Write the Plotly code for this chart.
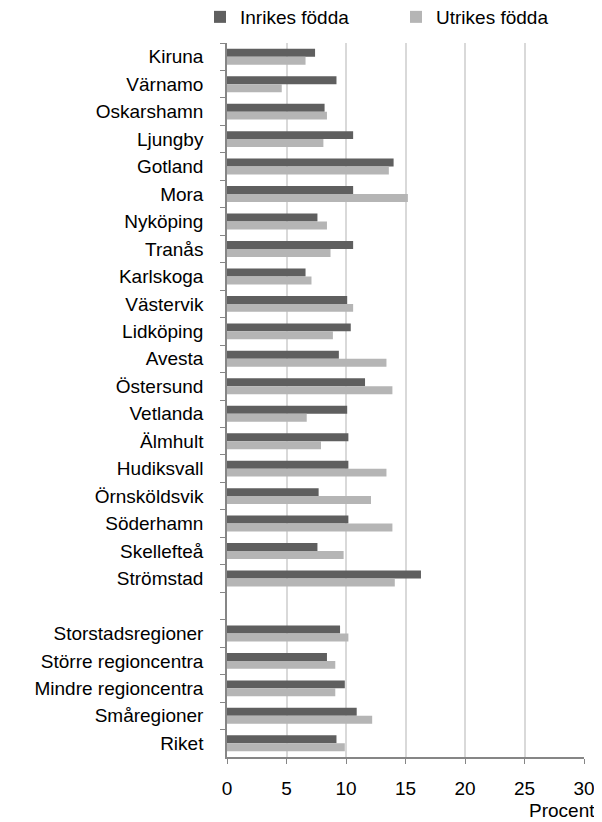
import plotly.graph_objects as go

categories = ["Kiruna", "Värnamo", "Oskarshamn", "Ljungby", "Gotland", "Mora", "Nyköping",
              "Tranås", "Karlskoga", "Västervik", "Lidköping", "Avesta", "Östersund", "Vetlanda",
              "Älmhult", "Hudiksvall", "Örnsköldsvik", "Söderhamn", "Skellefteå", "Strömstad",
              " ", "Storstadsregioner", "Större regioncentra", "Mindre regioncentra",
              "Småregioner", "Riket"]
inrikes = [7.4, 9.2, 8.2, 10.6, 14.0, 10.6, 7.6, 10.6, 6.6, 10.1, 10.4, 9.4, 11.6, 10.1,
           10.2, 10.2, 7.7, 10.2, 7.6, 16.3, None, 9.5, 8.4, 9.9, 10.9, 9.2]
utrikes = [6.6, 4.6, 8.4, 8.1, 13.6, 15.2, 8.4, 8.7, 7.1, 10.6, 8.9, 13.4, 13.9, 6.7,
           7.9, 13.4, 12.1, 13.9, 9.8, 14.1, None, 10.2, 9.1, 9.1, 12.2, 9.9]
x_ticks = [0, 5, 10, 15, 20, 25, 30]

FONT = "Liberation Sans, Arial, sans-serif"
FS = 19

fig = go.Figure()
fig.add_trace(go.Bar(y=categories, x=inrikes, orientation="h", name="Inrikes födda",
                     marker=dict(color="#5f5f5f", line=dict(width=0))))
fig.add_trace(go.Bar(y=categories, x=utrikes, orientation="h", name="Utrikes födda",
                     marker=dict(color="#b5b5b5", line=dict(width=0))))

fig.update_layout(
    width=594, height=814,
    margin=dict(l=219, r=18, t=35, b=65, autoexpand=False),
    paper_bgcolor="white", plot_bgcolor="white",
    barmode="group", bargap=0.42, bargroupgap=0,
    font=dict(family=FONT, size=FS, color="black"),
    showlegend=True,
    legend=dict(orientation="h", x=-0.0756, xanchor="left", y=1.0364, yanchor="middle",
                entrywidth=151, entrywidthmode="pixels",
                font=dict(size=FS), traceorder="normal", itemclick=False),
    xaxis=dict(range=[0, 30], tickvals=x_ticks, showgrid=True, gridcolor="#d9d9d9",
               gridwidth=2, showline=True, linecolor="#868686", linewidth=1.5,
               ticks="outside", ticklen=5, tickcolor="#868686", zeroline=False,
               ticklabelstandoff=8, tickfont=dict(size=FS), automargin=False),
    yaxis=dict(type="category", autorange="reversed", showline=True, linecolor="#868686",
               linewidth=1.5, ticks="outside", ticklen=5, tickcolor="#868686",
               tickson="boundaries", showgrid=False, ticklabelstandoff=18,
               tickfont=dict(size=FS), automargin=False),
    annotations=[dict(text="Procent", xref="paper", yref="paper", x=1.036, y=-0.0756,
                      xanchor="right", yanchor="middle", showarrow=False,
                      font=dict(size=FS))],
)

fig.write_html("out.html")
